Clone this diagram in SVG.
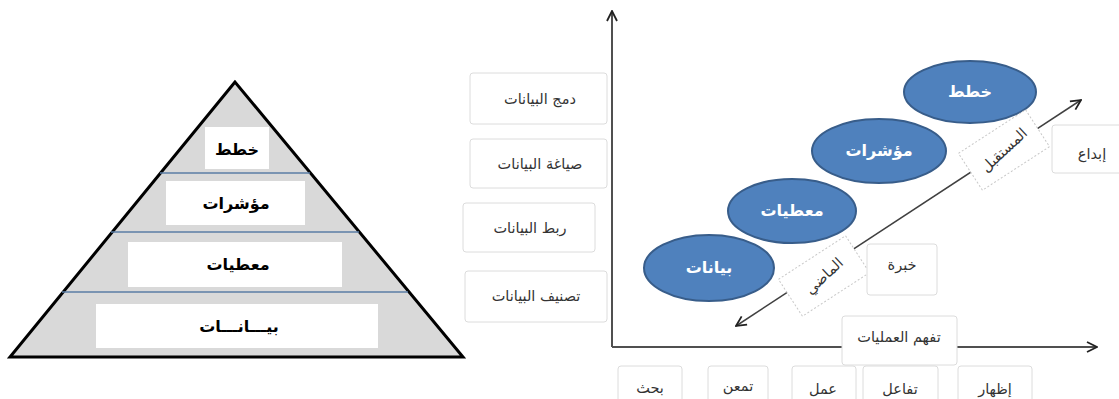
<svg xmlns="http://www.w3.org/2000/svg" width="1119" height="399" viewBox="0 0 1119 399">
<defs>
<style>
.pyr{fill:#d9d9d9;stroke:#000;stroke-width:3;stroke-linejoin:miter}
.div{stroke:#5a7ca5;stroke-width:1.5}
.pbox{fill:#fff;stroke:none}
.ptxt{font-family:"DejaVu Sans",sans-serif;font-weight:bold;font-size:16px;fill:#000;text-anchor:middle}
.ell{fill:#4f81bd;stroke:#385d8a;stroke-width:2}
.etxt{font-family:"DejaVu Sans",sans-serif;font-weight:bold;font-size:16px;fill:#fff;text-anchor:middle}
.lbox{fill:#fff;stroke:#dcdcdc;stroke-width:1}
.dbox{fill:#fff;stroke:#c8c8c8;stroke-width:1;stroke-dasharray:2 2}
.ltxt{font-family:"DejaVu Sans",sans-serif;font-size:14.5px;fill:#333;text-anchor:middle}
.axis{stroke:#505050;stroke-width:2;fill:none}
.diag{stroke:#404040;stroke-width:1.5;fill:none}
</style>
<marker id="arr" viewBox="0 0 12 12" refX="11" refY="6" markerWidth="12" markerHeight="12" markerUnits="userSpaceOnUse" orient="auto-start-reverse">
<path d="M1,1 L11,6 L1,11" fill="none" stroke="#222" stroke-width="1.8"/>
</marker>
</defs>
<rect width="1119" height="399" fill="#fff"/>

<g id="pyramid">
<polygon class="pyr" points="235,82 10,357 463,357"/>
<line class="div" x1="160" y1="173" x2="310" y2="173"/>
<line class="div" x1="111" y1="232" x2="359" y2="232"/>
<line class="div" x1="62" y1="292" x2="408" y2="292"/>
</g>
<g id="p-khutat"><rect class="pbox" x="205" y="127" width="64" height="42"/><text class="ptxt" x="237" y="155">خطط</text></g>
<g id="p-muasharat"><rect class="pbox" x="166" y="181" width="139" height="44"/><text class="ptxt" x="236" y="209">مؤشرات</text></g>
<g id="p-muatayat"><rect class="pbox" x="128" y="242" width="214" height="45"/><text class="ptxt" x="238" y="270">معطيات</text></g>
<g id="p-bayanat"><rect class="pbox" x="96" y="304" width="282" height="44"/><text class="ptxt" x="239" y="332">بيـــانـــات</text></g>

<g id="connectors">
<line class="axis" x1="612" y1="347" x2="612" y2="11" marker-end="url(#arr)"/>
<line class="axis" x1="612" y1="347" x2="1097" y2="347" marker-end="url(#arr)"/>
<line class="diag" x1="736" y1="326" x2="1081" y2="100" marker-start="url(#arr)" marker-end="url(#arr)"/>
</g>

<g id="l-damj"><rect class="lbox" x="470" y="73" width="137" height="51" rx="3"/><text class="ltxt" x="540" y="104">دمج البيانات</text></g>
<g id="l-siagha"><rect class="lbox" x="470" y="139" width="137" height="49" rx="3"/><text class="ltxt" x="540" y="169">صياغة البيانات</text></g>
<g id="l-rabt"><rect class="lbox" x="463" y="203" width="132" height="49" rx="3"/><text class="ltxt" x="530" y="233">ربط البيانات</text></g>
<g id="l-tasnif"><rect class="lbox" x="465" y="271" width="142" height="51" rx="3"/><text class="ltxt" x="536" y="301">تصنيف البيانات</text></g>

<g id="e-khutat"><ellipse class="ell" cx="970" cy="92" rx="66" ry="31"/><text class="etxt" x="970" y="97">خطط</text></g>
<g id="e-muasharat"><ellipse class="ell" cx="879" cy="151" rx="67" ry="32"/><text class="etxt" x="879" y="156">مؤشرات</text></g>
<g id="e-muatayat"><ellipse class="ell" cx="792" cy="211" rx="64" ry="32"/><text class="etxt" x="792" y="216">معطيات</text></g>
<g id="e-bayanat"><ellipse class="ell" cx="709" cy="268" rx="65" ry="33"/><text class="etxt" x="709" y="273">بيانات</text></g>

<g id="l-mustaqbal" transform="translate(1004,150) rotate(-33)"><rect class="dbox" x="-40" y="-22" width="80" height="44"/><text class="ltxt" x="0" y="5" transform="rotate(-10)">المستقبل</text></g>
<g id="l-madi" transform="translate(824,276) rotate(-33)"><rect class="dbox" x="-40" y="-22" width="80" height="44"/><text class="ltxt" x="0" y="5" transform="rotate(-10)">الماضي</text></g>

<g id="l-ibda"><rect class="lbox" x="1052" y="125" width="70" height="48" rx="3"/><text class="ltxt" x="1092" y="159">إبداع</text></g>
<g id="l-khibra"><rect class="lbox" x="867" y="244" width="70" height="51" rx="3"/><text class="ltxt" x="902" y="270">خبرة</text></g>
<g id="l-tafahum"><rect class="lbox" x="842" y="316" width="115" height="49" rx="3"/><text class="ltxt" x="899" y="342">تفهم العمليات</text></g>

<g id="l-bahth"><rect class="lbox" x="618" y="366" width="64" height="40" rx="3"/><text class="ltxt" x="650" y="393">بحث</text></g>
<g id="l-tamaun"><rect class="lbox" x="708" y="366" width="60" height="40" rx="3"/><text class="ltxt" x="738" y="391">تمعن</text></g>
<g id="l-amal"><rect class="lbox" x="792" y="366" width="64" height="40" rx="3"/><text class="ltxt" x="823" y="394">عمل</text></g>
<g id="l-tafaul"><rect class="lbox" x="863" y="366" width="75" height="40" rx="3"/><text class="ltxt" x="900" y="394">تفاعل</text></g>
<g id="l-izhar"><rect class="lbox" x="958" y="366" width="74" height="40" rx="3"/><text class="ltxt" x="995" y="394">إظهار</text></g>
</svg>
